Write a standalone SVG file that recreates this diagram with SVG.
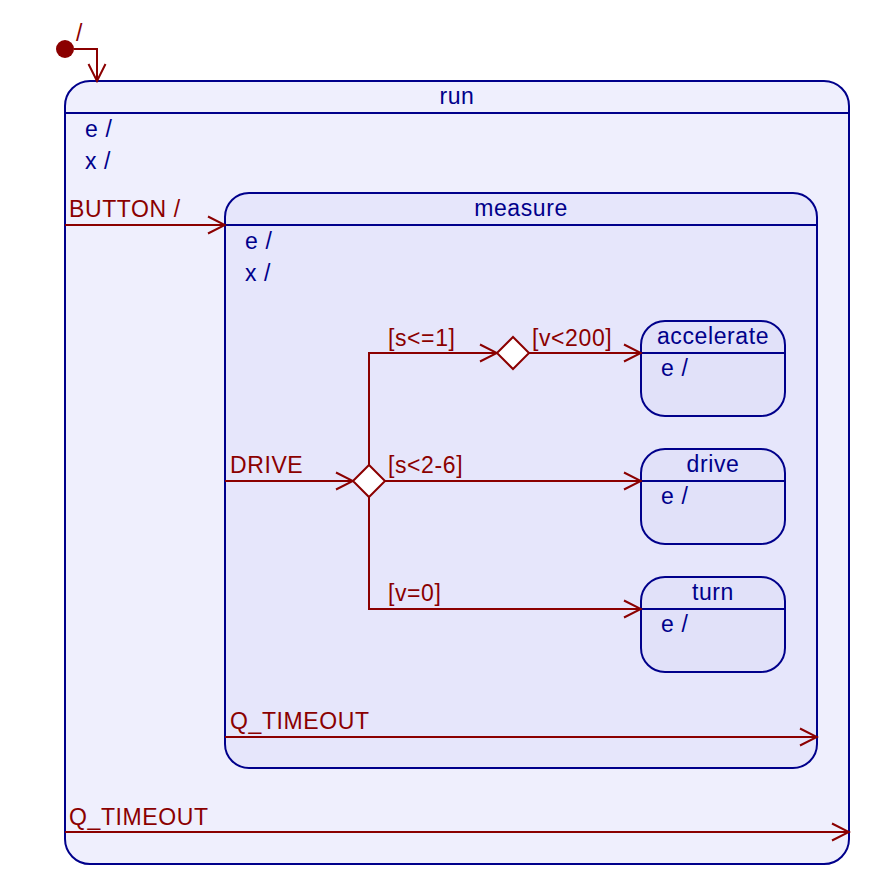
<svg xmlns="http://www.w3.org/2000/svg" width="880" height="896" viewBox="0 0 880 896">
<defs>
<marker id="arr" viewBox="-20 -10 22 20" refX="0" refY="0" markerWidth="22" markerHeight="20" markerUnits="userSpaceOnUse" orient="auto">
<path d="M-17,-8.5 L0,0 L-17,8.5" fill="none" stroke="#8B0000" stroke-width="2"/>
</marker>
</defs>
<style>
.st{stroke:#00008B;stroke-width:2}
.t{font-family:"Liberation Sans",Arial,sans-serif;font-size:23px;fill:#00008B;letter-spacing:0.6px}
.c{text-anchor:middle}
.l{font-family:"Liberation Sans",Arial,sans-serif;font-size:23px;fill:#8B0000;letter-spacing:0.6px}
.e{fill:none;stroke:#8B0000;stroke-width:2}
</style>
<rect width="880" height="896" fill="#ffffff"/>
<g id="initial">
<circle cx="65" cy="49" r="9" fill="#8B0000"/>
</g>
<g id="run">
<rect x="65" y="81" width="784" height="783" rx="25" ry="25" fill="#EFEFFD" class="st"/>
<line x1="65" y1="113" x2="849" y2="113" class="st"/>
<text x="457" y="104" class="t c">run</text>
<text x="85" y="137" class="t">e /</text>
<text x="85" y="169" class="t">x /</text>
</g>
<g id="measure">
<rect x="225" y="193" width="592" height="575" rx="24" ry="24" fill="#E6E6FB" class="st"/>
<line x1="225" y1="225" x2="817" y2="225" class="st"/>
<text x="521" y="216" class="t c">measure</text>
<text x="245" y="249" class="t">e /</text>
<text x="245" y="281" class="t">x /</text>
</g>
<g id="accelerate">
<rect x="641" y="321" width="144" height="95" rx="24" ry="24" fill="#E1E1F9" class="st"/>
<line x1="641" y1="353" x2="785" y2="353" class="st"/>
<text x="713" y="344" class="t c">accelerate</text>
<text x="661" y="376" class="t">e /</text>
</g>
<g id="drive">
<rect x="641" y="449" width="144" height="95" rx="24" ry="24" fill="#E1E1F9" class="st"/>
<line x1="641" y1="481" x2="785" y2="481" class="st"/>
<text x="713" y="472" class="t c">drive</text>
<text x="661" y="504" class="t">e /</text>
</g>
<g id="turn">
<rect x="641" y="577" width="144" height="95" rx="24" ry="24" fill="#E1E1F9" class="st"/>
<line x1="641" y1="609" x2="785" y2="609" class="st"/>
<text x="713" y="600" class="t c">turn</text>
<text x="661" y="632" class="t">e /</text>
</g>
<g id="connectors">
<polyline points="74,49 97,49 97,81" class="e" marker-end="url(#arr)"/>
<text x="76" y="41" class="l">/</text>
<line x1="65" y1="225" x2="225" y2="225" class="e" marker-end="url(#arr)"/>
<text x="69" y="217" class="l">BUTTON /</text>
<line x1="225" y1="481" x2="353" y2="481" class="e" marker-end="url(#arr)"/>
<text x="230" y="473" class="l">DRIVE</text>
<polyline points="369,465 369,353 497,353" class="e" marker-end="url(#arr)"/>
<text x="388" y="346" class="l">[s&lt;=1]</text>
<line x1="529" y1="353" x2="641" y2="353" class="e" marker-end="url(#arr)"/>
<text x="532" y="346" class="l">[v&lt;200]</text>
<line x1="385" y1="481" x2="641" y2="481" class="e" marker-end="url(#arr)"/>
<text x="388" y="473" class="l">[s&lt;2-6]</text>
<polyline points="369,497 369,609 641,609" class="e" marker-end="url(#arr)"/>
<text x="388" y="601" class="l">[v=0]</text>
<line x1="225" y1="737" x2="817" y2="737" class="e" marker-end="url(#arr)"/>
<text x="230" y="729" class="l">Q_TIMEOUT</text>
<line x1="65" y1="832" x2="849" y2="832" class="e" marker-end="url(#arr)"/>
<text x="69" y="825" class="l">Q_TIMEOUT</text>
</g>
<g id="choice1">
<polygon points="353,481 369,465 385,481 369,497" fill="#ffffff" stroke="#8B0000" stroke-width="2"/>
</g>
<g id="choice2">
<polygon points="497,353 513,337 529,353 513,369" fill="#ffffff" stroke="#8B0000" stroke-width="2"/>
</g>
</svg>
